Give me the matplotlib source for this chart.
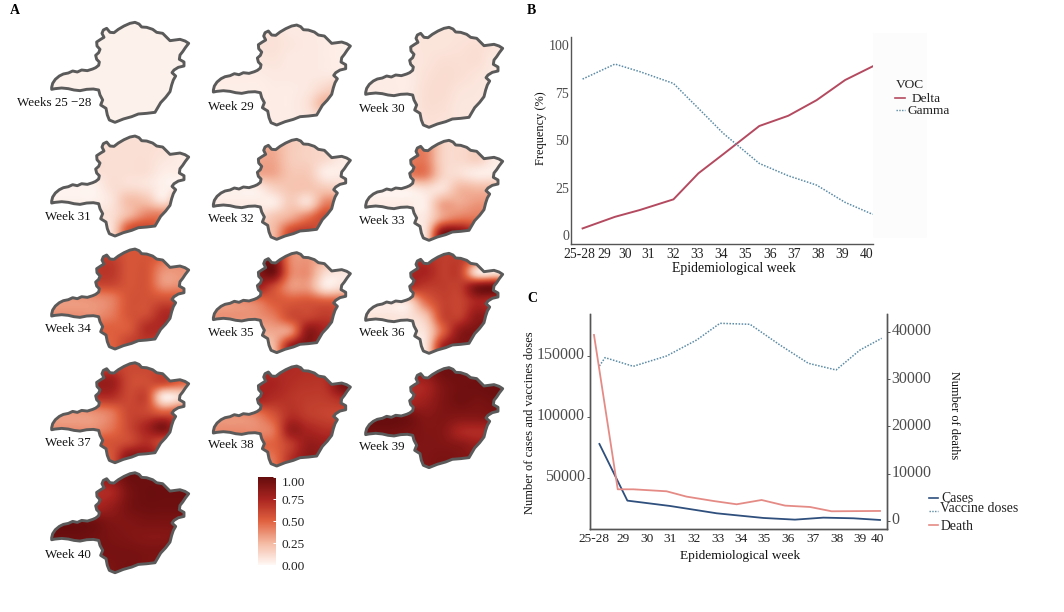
import matplotlib
matplotlib.use('Agg')
import matplotlib.pyplot as plt
import numpy as np
from matplotlib.cm import ScalarMappable
from matplotlib.colors import LinearSegmentedColormap, Normalize
from matplotlib.patches import Polygon, Rectangle
from matplotlib.transforms import ScaledTranslation

plt.rcParams['font.family'] = ['Liberation Serif', 'DejaVu Serif']

W, H = 1064, 612

# state outline, in reference pixels x3 (first map)
outline_x = [155,158,166,178,190,205,218,232,245,262,278,287,296,298,290,287,296,300,291,290,302,312,306,310,320,330,342,355,372,390,405,417,425,440,458,470,488,498,510,525,540,555,566,556,548,540,538,552,552,535,522,516,527,520,515,510,497,482,472,465,440,415,395,370,345,328,322,318,302,308,300,296,280,260,240,222,205,185,165,155]
outline_y = [262,250,238,228,222,219,213,216,210,212,207,203,196,186,178,166,158,148,138,126,118,112,100,90,85,97,98,88,78,70,67,72,81,82,88,97,100,110,122,120,118,123,130,143,155,165,178,186,198,202,210,218,228,240,255,275,292,308,325,337,340,342,350,357,367,360,345,325,315,300,285,270,267,268,272,270,266,264,266,268]

map_labels = ['Weeks 25 \u221228', 'Week 29', 'Week 30', 'Week 31', 'Week 32', 'Week 33', 'Week 34',
              'Week 35', 'Week 36', 'Week 37', 'Week 38', 'Week 39', 'Week 40']
map_dx = [0, 161.7, 314, 0, 161.7, 314, 0, 161.7, 314, 0, 161.7, 314, 0]
map_dy = [0, 2.7, 5, 113.7, 117, 118, 226.7, 230.3, 231, 340.4, 343.7, 345.3, 450.4]
label_x = [17, 208, 359, 45, 208, 359, 45, 208, 359, 45, 208, 359, 45]
label_y = [102, 105, 107, 215, 218, 220, 327, 331, 332, 441, 444, 446, 553]

# share of Delta, on a coarse 8 x 7 grid
grid_25_28 = [[.03,.03,.03,.03,.03,.03,.03,.03],
              [.03,.03,.03,.03,.03,.03,.03,.03],
              [.03,.03,.03,.03,.03,.03,.03,.03],
              [.03,.03,.03,.03,.03,.03,.03,.03],
              [.03,.03,.03,.03,.03,.03,.03,.03],
              [.03,.03,.03,.03,.03,.03,.03,.03],
              [.03,.03,.03,.03,.03,.03,.03,.03]]
grid_29 = [[.05,.05,.07,.08,.06,.06,.05,.05],
           [.05,.05,.08,.09,.07,.06,.05,.04],
           [.05,.05,.07,.08,.06,.06,.05,.04],
           [.05,.05,.05,.06,.06,.06,.06,.06],
           [.04,.04,.04,.05,.05,.07,.14,.2],
           [.04,.04,.04,.05,.05,.1,.27,.2],
           [.04,.04,.04,.05,.05,.07,.12,.1]]
grid_30 = [[.07,.07,.07,.08,.08,.08,.08,.08],
           [.07,.07,.07,.08,.08,.09,.1,.08],
           [.07,.07,.07,.08,.1,.1,.1,.06],
           [.05,.05,.05,.09,.11,.1,.08,.06],
           [.05,.05,.05,.1,.11,.08,.07,.06],
           [.05,.05,.05,.1,.1,.07,.07,.06],
           [.05,.05,.05,.09,.09,.07,.07,.06]]
grid_31 = [[.1,.1,.1,.1,.1,.1,.1,.1],
           [.1,.1,.1,.1,.1,.1,.08,.05],
           [.1,.1,.1,.1,.1,.1,.05,.05],
           [.03,.03,.03,.1,.1,.08,.03,.03],
           [.03,.03,.03,.08,.22,.2,.08,.3],
           [.1,.1,.1,.1,.25,.4,.42,.4],
           [.1,.1,.1,.1,.55,.62,.5,.5]]
grid_32 = [[.3,.3,.3,.28,.18,.15,.12,.05],
           [.3,.3,.3,.3,.18,.15,.12,.05],
           [.3,.3,.3,.3,.2,.18,.05,.05],
           [.05,.05,.05,.15,.2,.2,.18,.15],
           [.05,.05,.05,.05,.18,.12,.4,.4],
           [.1,.1,.1,.2,.3,.45,.6,.5],
           [.25,.25,.25,.25,.6,.66,.5,.5]]
grid_33 = [[.4,.4,.4,.4,.15,.12,.15,.05],
           [.4,.4,.42,.42,.15,.12,.15,.05],
           [.42,.42,.42,.42,.15,.1,.05,.05],
           [.05,.05,.05,.1,.1,.25,.25,.25],
           [.05,.05,.05,.05,.3,.3,.35,.35],
           [.08,.08,.08,.08,.35,.45,.45,.45],
           [.1,.1,.1,.1,.9,.92,.7,.7]]
grid_34 = [[.62,.62,.62,.62,.55,.55,.55,.42],
           [.67,.67,.67,.67,.55,.55,.38,.36],
           [.62,.62,.62,.62,.55,.55,.35,.36],
           [.36,.36,.38,.42,.55,.56,.55,.55],
           [.36,.36,.36,.42,.55,.58,.72,.7],
           [.5,.5,.5,.5,.53,.7,.72,.7],
           [.5,.5,.5,.5,.62,.67,.62,.62]]
grid_35 = [[.85,.85,.85,.9,.4,.35,.3,.3],
           [.85,.85,.85,.95,.42,.36,.12,.08],
           [.8,.8,.8,.6,.36,.33,.08,.12],
           [.36,.38,.42,.52,.53,.55,.53,.53],
           [.36,.36,.36,.42,.58,.62,.66,.6],
           [.3,.3,.3,.3,.38,.85,.75,.7],
           [.25,.25,.25,.25,.8,.9,.7,.7]]
grid_36 = [[.65,.65,.65,.7,.65,.65,.6,.3],
           [.75,.75,.75,.75,.65,.62,.1,.08],
           [.7,.7,.7,.65,.65,.65,.9,.95],
           [.1,.1,.12,.45,.62,.62,.75,.7],
           [.08,.08,.08,.2,.6,.65,.85,.8],
           [.1,.1,.1,.1,.5,.85,.9,.85],
           [.08,.08,.08,.08,.75,.9,.85,.85]]
grid_37 = [[.6,.6,.6,.65,.6,.6,.6,.55],
           [.8,.8,.8,.8,.6,.58,.6,.5],
           [.7,.7,.7,.7,.6,.6,.08,.12],
           [.36,.36,.38,.44,.6,.6,.5,.55],
           [.36,.36,.36,.44,.6,.75,.9,.6],
           [.55,.55,.55,.55,.6,.7,.6,.6],
           [.55,.55,.55,.55,.85,.85,.7,.7]]
grid_38 = [[.72,.72,.72,.72,.72,.7,.7,.7],
           [.75,.75,.75,.75,.7,.68,.7,.92],
           [.75,.75,.75,.7,.68,.65,.65,.7],
           [.38,.38,.42,.55,.7,.65,.62,.6],
           [.38,.38,.38,.45,.8,.75,.7,.7],
           [.5,.5,.5,.5,.65,.82,.8,.8],
           [.45,.45,.45,.45,.7,.85,.8,.8]]
grid_39 = [[.8,.8,.8,.85,.95,.95,.95,.95],
           [.72,.72,.72,.75,.9,.95,.96,.97],
           [.75,.75,.75,.8,.9,.95,.93,.95],
           [.97,.97,.95,.88,.9,.88,.88,.9],
           [.95,.95,.93,.9,.88,.75,.72,.75],
           [.9,.9,.9,.9,.9,.88,.82,.85],
           [.9,.9,.9,.9,.92,.9,.88,.88]]
grid_40 = [[.8,.8,.8,.85,.96,.96,.96,.96],
           [.72,.72,.72,.74,.92,.97,.97,.97],
           [.75,.75,.75,.82,.93,.96,.96,.96],
           [.97,.97,.95,.9,.9,.92,.92,.92],
           [.97,.97,.95,.92,.9,.88,.88,.9],
           [.93,.93,.93,.93,.93,.92,.92,.92],
           [.92,.92,.92,.92,.94,.92,.9,.9]]
map_grids = [grid_25_28, grid_29, grid_30, grid_31, grid_32, grid_33, grid_34,
             grid_35, grid_36, grid_37, grid_38, grid_39, grid_40]

# panel B
b_ticks = [0, 1.06, 1.91, 2.88, 3.91, 4.92, 5.92, 6.92, 7.96, 8.96, 9.96, 10.98, 11.98]
week_labels = ['25-28', '29', '30', '31', '32', '33', '34', '35', '36', '37', '38', '39', '40']
b_x = [0.15, 1.5, 2.54, 3.94, 4.98, 6.02, 7.52, 8.73, 9.91, 11.1, 12.25]
delta = [3.5, 9.6, 13.2, 18.8, 32.5, 42.6, 57.4, 62.8, 71, 81.6, 88.8]
gamma = [82.1, 90, 86, 79.8, 66.7, 53.5, 37.7, 31.2, 26.3, 17.2, 10.9]

# panel C
c_ticks = [0, 1.25, 2.26, 3.25, 4.26, 5.26, 6.24, 7.23, 8.27, 9.33, 10.33, 11.32, 12.05]
cases_x = [.23, 1.42, 3.23, 4.23, 5.22, 6.21, 7.21, 8.55, 9.76, 11.04, 12.17]
cases = [77600, 31150, 26780, 23770, 20770, 18850, 16940, 15570, 17210, 16670, 15300]
deaths_x = [0, 1.01, 1.67, 3.09, 3.94, 5.08, 6.07, 7.13, 8.13, 9.19, 10.11, 12.17]
deaths = [39370, 6700, 6700, 6280, 5150, 4230, 3530, 4440, 3250, 2960, 2050, 2120]
doses_x = [.23, .47, 1.67, 3.09, 4.37, 5.36, 6.64, 7.91, 9.12, 10.3, 11.32, 12.24]
doses = [141530, 148360, 141260, 149730, 162840, 176500, 175680, 158740, 143720, 138250, 154640, 164210]

DELTA = '#b44a60'
BLUE_DOT = '#5b8ba6'
NAVY = '#2f4f7d'
SALMON = '#e58b86'
GREY = '#555555'
NUDGE = 1.5  # va='center' sits a bit high for this font

reds = LinearSegmentedColormap.from_list('share', [(0, '#fff8f5'), (.25, '#f4b9a2'), (.5, '#e0613f'),
                                                   (.75, '#a92420'), (1, '#650c0d')])
norm = Normalize(0, 1)


def px_axes(left, top, right, bottom):
    return fig.add_axes([left / W, 1 - bottom / H, (right - left) / W, (bottom - top) / H])


fig = plt.figure(figsize=(W / 100, H / 100), dpi=100)

# overlay in pixels: maps, panel letters, hand placed legends
pix = fig.add_axes([0, 0, 1, 1], zorder=5)
pix.patch.set_alpha(0)
pix.axis('off')

pix.add_patch(Rectangle((873, 33), 54, 205, fc='#fcfcfc', ec='none', zorder=0))

base_x = np.array(outline_x) / 3
base_y = np.array(outline_y) / 3
for grid, dx, dy in zip(map_grids, map_dx, map_dy):
    im = pix.imshow(grid, cmap=reds, norm=norm, interpolation='catrom', aspect='auto',
                    extent=(150 / 3 + dx, 570 / 3 + dx, 370 / 3 + dy, 60 / 3 + dy), zorder=1)
    shape = Polygon(np.column_stack([base_x + dx, base_y + dy]), closed=True, fc='none',
                    ec='#5a5a5a', lw=2.1, joinstyle='round', zorder=2)
    pix.add_patch(shape)
    im.set_clip_path(shape)

for name, x, y in zip(map_labels, label_x, label_y):
    pix.text(x, y + NUDGE, name, fontsize=9.4, ha='left', va='center', color='#111111', zorder=3)

pix.set_xlim(0, W)
pix.set_ylim(H, 0)

for letter, x, y in [('A', 10, 9), ('B', 527, 9), ('C', 527, 297)]:
    pix.text(x, y + NUDGE, letter, fontsize=10, fontweight='bold', ha='left', va='center')

# legend B
pix.text(896, 84 + NUDGE, 'VOC', fontsize=9.6, va='center', color='#222222')
pix.plot([895, 905], [97.7, 97.7], color=DELTA, lw=1.2)
pix.text(911.5, 97.7 + NUDGE, 'Delta', fontsize=9.6, va='center', color='#222222')
pix.plot([896, 905], [110, 110], color=BLUE_DOT, lw=1, ls=(0, (1, 1)))
pix.text(908, 110 + NUDGE, 'Gamma', fontsize=9.6, va='center', color='#222222')

# legend C
pix.plot([929, 938], [498, 498], color=NAVY, lw=1.2)
pix.text(941.5, 496.5 + NUDGE, 'Cases', fontsize=9.9, va='center', color='#222222')
pix.plot([929, 938], [510.5, 510.5], color=BLUE_DOT, lw=1, ls=(0, (1, 1)))
pix.text(940.5, 507.5 + NUDGE, 'Vaccine doses', fontsize=10, va='center', color='#222222')
pix.plot([929, 938], [525, 525], color=SALMON, lw=1.2)
pix.text(940.5, 525 + NUDGE, 'Death', fontsize=9.9, va='center', color='#222222')

# colour bar
cax = px_axes(258.3, 477, 276, 565)
cbar = fig.colorbar(ScalarMappable(norm=norm, cmap=reds), cax=cax, ticks=[0, .25, .5, .75, 1])
cbar.outline.set_visible(False)
cax.set_yticklabels(['0.00', '0.25', '0.50', '0.75', '1.00'], fontsize=9.6, color='#222222')
cax.tick_params(axis='y', color='white', direction='in', length=2.5, width=.7, pad=4)
cax.get_yticklabels()[-1].set_va('top')

# panel B
ax_b = px_axes(570.7, 36.7, 872.7, 244)
ax_b.plot(b_x, delta, color=DELTA, lw=1.4, solid_joinstyle='round')
ax_b.plot(b_x, gamma, color=BLUE_DOT, lw=1.1, ls=(0, (1, 1)))
ax_b.set_xlim(-0.346, 12.25)
ax_b.set_ylim(-4.7, 104.4)
ax_b.set_xticks(b_ticks)
ax_b.set_xticklabels(week_labels, fontsize=9.8, color='#222222')
ax_b.set_yticks([0, 25, 50, 75, 100])
ax_b.tick_params(axis='y', length=0, pad=1, labelsize=10, labelcolor='#4d4d4d')
ax_b.tick_params(axis='x', length=0, pad=3)
for side in ['top', 'right']:
    ax_b.spines[side].set_visible(False)
for side in ['left', 'bottom']:
    ax_b.spines[side].set_color(GREY)
    ax_b.spines[side].set_linewidth(1)
pix.text(734, 267 + NUDGE, 'Epidemiological week', fontsize=9.9, ha='center', va='center', color='#111111')
pix.text(540.7, 128, 'Frequency (%)', fontsize=8.9, rotation=90, ha='center', va='center', color='#111111')

# panel C
ax_c = px_axes(590, 314.3, 887.3, 529.3)
ax_c.plot(cases_x, cases, color=NAVY, lw=1.3)
ax_c.plot(doses_x, doses, color=BLUE_DOT, lw=1.1, ls=(0, (1, 1)))
ax_c.set_xlim(-0.17, 12.48)
ax_c.set_ylim(7650, 183880)
ax_c.set_xticks(c_ticks)
ax_c.set_xticklabels(week_labels, fontsize=9.6, color='#222222')
ax_c.set_yticks([50000, 100000, 150000])
ax_c.tick_params(axis='x', length=0, pad=3)
ax_c.tick_params(axis='y', length=2.5, width=.7, color=GREY, pad=1, labelsize=11.5, labelcolor='#4d4d4d')

ax_d = ax_c.twinx()
ax_d.plot(deaths_x, deaths, color=SALMON, lw=1.3)
ax_d.set_ylim(-1764, 43739)
ax_d.set_yticks([0, 10000, 20000, 30000, 40000])
ax_d.tick_params(axis='y', length=2.5, width=.7, color=GREY, pad=0.5, labelsize=11.5, labelcolor='#4d4d4d')

for axis in [ax_c, ax_d]:
    axis.spines['top'].set_visible(False)
    for side in ['left', 'right', 'bottom']:
        axis.spines[side].set_color(GREY)
        axis.spines[side].set_linewidth(1)
    # tick labels sit a little above their tick marks in the original
    for tick_label in axis.get_yticklabels():
        tick_label.set_transform(tick_label.get_transform() + ScaledTranslation(0, 2.5 / 100, fig.dpi_scale_trans))

pix.text(740, 554.3 + NUDGE, 'Epidemiological week', fontsize=9.6, ha='center', va='center', color='#111111')
pix.text(530, 422.3, 'Number of cases and vaccines doses', fontsize=9, rotation=90, ha='center', va='center', color='#111111')
pix.text(954, 415, 'Number of deaths', fontsize=8.8, rotation=270, ha='center', va='center', color='#111111')

fig.savefig('out.png', dpi=100)
